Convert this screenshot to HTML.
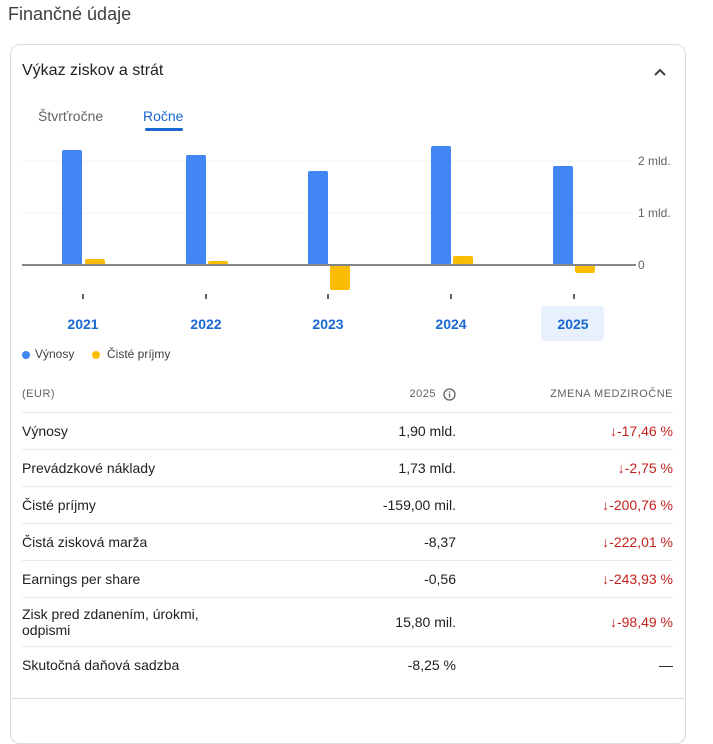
<!DOCTYPE html>
<html><head><meta charset="utf-8"><style>
*{margin:0;padding:0;box-sizing:border-box}
body{width:713px;height:704px;background:#fff;font-family:"Liberation Sans",Arial,sans-serif;color:#202124;position:relative;overflow:hidden}
.a{position:absolute;white-space:nowrap}
.card{position:absolute;left:10px;top:44px;width:676px;height:700px;border:1px solid #dadce0;border-radius:10px}
.r{position:absolute;left:22px;width:651px;height:0;border-top:1px solid #e8eaed}
.lab{left:22px;font-size:14px}
.val{right:257px;font-size:14px;text-align:right}
.chg{right:40px;font-size:14px;color:#c5221f;text-align:right}
.yr{font-size:14px;color:#1967d2;font-weight:bold;width:60px;text-align:center}
</style></head><body>
<div class="a" style="left:8px;top:4px;font-size:18px;color:#3c4043">Finančné údaje</div>
<div class="card"></div>
<div class="a" style="left:10px;top:698px;width:676px;height:0;border-top:1px solid #dadce0"></div>
<div class="a" style="left:22px;top:62px;font-size:16px">Výkaz ziskov a strát</div>
<svg class="a" style="left:653px;top:65px" width="14" height="14"><path d="M2 10 L7 5 L12 10" stroke="#3c4043" stroke-width="2" fill="none"/></svg>
<div class="a" style="left:38px;top:108px;font-size:14px;color:#5f6368">Štvrťročne</div>
<div class="a" style="left:143px;top:108px;font-size:14px;color:#1967d2">Ročne</div>
<div class="a" style="left:145px;top:128px;width:38px;height:3px;background:#1967d2;border-radius:2px"></div>
<svg class="a" style="left:0;top:140px" width="713" height="170">
<line x1="22" y1="21" x2="633" y2="21" stroke="#f1f3f4"/>
<line x1="22" y1="73" x2="633" y2="73" stroke="#f1f3f4"/>
<g fill="#4285f4">
<rect x="62" y="10" width="20" height="115" rx="2"/>
<rect x="186" y="15" width="20" height="110" rx="2"/>
<rect x="308" y="31" width="20" height="94" rx="2"/>
<rect x="431" y="6" width="20" height="119" rx="2"/>
<rect x="553" y="26" width="20" height="99" rx="2"/>
</g>
<g fill="#fbbc04">
<rect x="85" y="119" width="20" height="6" rx="2"/>
<rect x="208" y="121" width="20" height="4" rx="2"/>
<rect x="330" y="125" width="20" height="25" rx="2"/>
<rect x="453" y="116" width="20" height="9" rx="2"/>
<rect x="575" y="125" width="20" height="8" rx="2"/>
</g>
<line x1="22" y1="125" x2="636" y2="125" stroke="#80868b" stroke-width="2"/>
<g stroke="#5f6368" stroke-width="2"><line x1="83" y1="154" x2="83" y2="159"/><line x1="206" y1="154" x2="206" y2="159"/><line x1="328" y1="154" x2="328" y2="159"/><line x1="451" y1="154" x2="451" y2="159"/><line x1="574" y1="154" x2="574" y2="159"/></g>
<g font-size="12" fill="#5f6368" font-family="Liberation Sans,Arial,sans-serif"><text x="638" y="25">2 mld.</text><text x="638" y="77">1 mld.</text><text x="638" y="129">0</text></g>
</svg>
<div class="a" style="left:541px;top:306px;width:63px;height:35px;background:#e8f0fe;border-radius:4px"></div>
<div class="a yr" style="left:53px;top:316px">2021</div>
<div class="a yr" style="left:176px;top:316px">2022</div>
<div class="a yr" style="left:298px;top:316px">2023</div>
<div class="a yr" style="left:421px;top:316px">2024</div>
<div class="a yr" style="left:543px;top:316px">2025</div>
<div class="a" style="left:22px;top:351px;width:8px;height:8px;border-radius:50%;background:#4285f4"></div>
<div class="a" style="left:35px;top:347px;font-size:12px;color:#3c4043">Výnosy</div>
<div class="a" style="left:92px;top:351px;width:8px;height:8px;border-radius:50%;background:#fbbc04"></div>
<div class="a" style="left:107px;top:347px;font-size:12px;color:#3c4043">Čisté príjmy</div>
<div class="a" style="left:22px;top:388px;font-size:11px;color:#5f6368;letter-spacing:.5px">(EUR)</div>
<div class="a" style="right:277px;top:388px;font-size:11px;color:#5f6368;letter-spacing:.5px">2025</div>
<svg class="a" style="left:443px;top:388px" width="13" height="13"><circle cx="6.5" cy="6.5" r="5.5" stroke="#5f6368" stroke-width="1.3" fill="none"/><rect x="5.9" y="5.5" width="1.3" height="4" fill="#5f6368"/><rect x="5.9" y="3.3" width="1.3" height="1.3" fill="#5f6368"/></svg>
<div class="a" style="right:40px;top:388px;font-size:11px;color:#5f6368;letter-spacing:.5px">ZMENA MEDZIROČNE</div>
<div class="r" style="top:412px"></div><div class="r" style="top:449px"></div><div class="r" style="top:486px"></div><div class="r" style="top:523px"></div><div class="r" style="top:560px"></div><div class="r" style="top:597px"></div><div class="r" style="top:646px"></div>
<div class="a lab" style="top:423px">Výnosy</div><div class="a val" style="top:423px">1,90 mld.</div><div class="a chg" style="top:423px">↓-17,46 %</div>
<div class="a lab" style="top:460px">Prevádzkové náklady</div><div class="a val" style="top:460px">1,73 mld.</div><div class="a chg" style="top:460px">↓-2,75 %</div>
<div class="a lab" style="top:497px">Čisté príjmy</div><div class="a val" style="top:497px">-159,00 mil.</div><div class="a chg" style="top:497px">↓-200,76 %</div>
<div class="a lab" style="top:534px">Čistá zisková marža</div><div class="a val" style="top:534px">-8,37</div><div class="a chg" style="top:534px">↓-222,01 %</div>
<div class="a lab" style="top:571px">Earnings per share</div><div class="a val" style="top:571px">-0,56</div><div class="a chg" style="top:571px">↓-243,93 %</div>
<div class="a lab" style="top:606px;line-height:16px">Zisk pred zdanením, úrokmi,<br>odpismi</div><div class="a val" style="top:614px">15,80 mil.</div><div class="a chg" style="top:614px">↓-98,49 %</div>
<div class="a lab" style="top:657px">Skutočná daňová sadzba</div><div class="a val" style="top:657px">-8,25 %</div><div class="a" style="right:40px;top:657px;font-size:14px">—</div>
</body></html>
